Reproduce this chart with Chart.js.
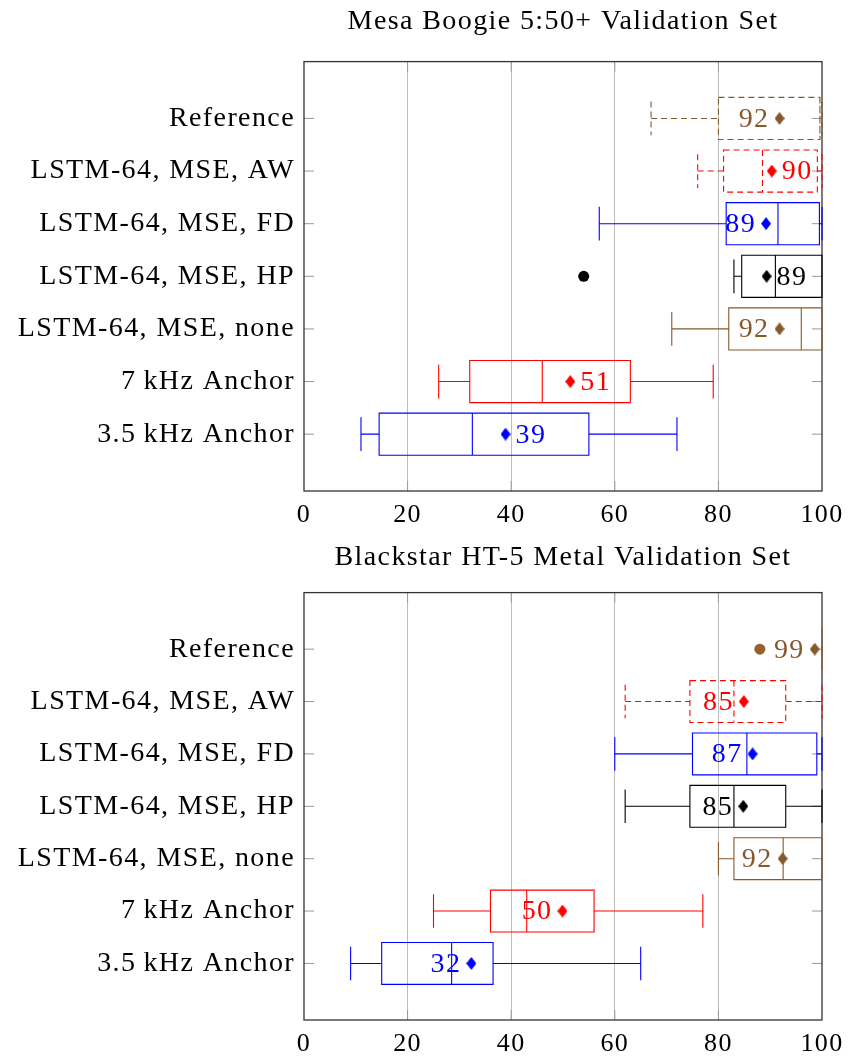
<!DOCTYPE html>
<html>
<head>
<meta charset="utf-8">
<script src="https://cdn.jsdelivr.net/npm/chart.js@4.4.1/dist/chart.umd.min.js"></script>
<style>
  body { margin: 0; background: #fff; }
  .box { position: absolute; left: 0; width: 848px; }
</style>
</head>
<body>
<div class="box" style="top:0;height:536px"><canvas id="mesa"></canvas></div>
<div class="box" style="top:536px;height:521px"><canvas id="blackstar"></canvas></div>
<script>
// categories top to bottom
var categories = ['Reference', 'LSTM-64, MSE, AW', 'LSTM-64, MSE, FD', 'LSTM-64, MSE, HP',
  'LSTM-64, MSE, none', '7\u2009kHz Anchor', '3.5\u2009kHz Anchor'];
var xTicks = [0, 20, 40, 60, 80, 100];

// Mesa Boogie 5:50+
var mesaLow      = [67, 76, 57, 83, 71, 26, 11];
var mesaQ1       = [80, 81, 81.5, 84.5, 82, 32, 14.5];
var mesaMedian   = [99.6, 88.5, 91.5, 91, 96, 46, 32.5];
var mesaQ3       = [99.6, 99.1, 99.5, 100, 100, 63, 55];
var mesaHigh     = [100, 100, 100, 100, 100, 79, 72];
var mesaMean     = [91.8, 90.3, 89.2, 89.3, 91.8, 51.4, 38.9];
var mesaOutliers = [[], [], [], [54], [], [], []];

// Blackstar HT-5 Metal
var bsLow      = [100, 62, 60, 62, 80, 25, 9];
var bsQ1       = [100, 74.5, 75, 74.5, 83, 36, 15];
var bsMedian   = [100, 83, 85.5, 83, 92.5, 43, 28.5];
var bsQ3       = [100, 93, 99, 93, 100, 56, 36.5];
var bsHigh     = [100, 100, 100, 100, 100, 77, 65];
var bsMean     = [98.6, 84.9, 86.6, 84.8, 92.4, 49.9, 32.3];
var bsOutliers = [[88], [], [], [], [], [], []];

// styling
var BROWN = '#86592d';
var rowColors = [BROWN, '#ff0000', '#0000ff', '#000000', BROWN, '#ff0000', '#0000ff'];
var FONT = "'Liberation Serif', 'Times New Roman', serif";

function diamond(color) {
  var c = document.createElement('canvas');
  c.width = 10; c.height = 13;
  var g = c.getContext('2d');
  g.fillStyle = color;
  g.beginPath();
  g.moveTo(5, 0); g.lineTo(10, 6.5); g.lineTo(5, 13); g.lineTo(0, 6.5);
  g.closePath(); g.fill();
  return c;
}
var diamonds = rowColors.map(diamond);

function rowPos(i) { return categories.length - i; }

function makeBoxPlugin(st) {
  return {
    id: 'boxes',
    beforeDraw: function(chart) {
      // computer modern sets wider than Liberation Serif
      chart.ctx.letterSpacing = '1.4px';
    },
    beforeDatasetsDraw: function(chart) {
      var ctx = chart.ctx, a = chart.chartArea;
      var xs = chart.scales.x, ys = chart.scales.y;
      ctx.save();
      // inner ticks
      ctx.strokeStyle = '#999';
      ctx.lineWidth = 1;
      ctx.beginPath();
      categories.forEach(function(c, i) {
        var y = ys.getPixelForValue(rowPos(i));
        ctx.moveTo(a.left, y); ctx.lineTo(a.left + 10, y);
        ctx.moveTo(a.right, y); ctx.lineTo(a.right - 10, y);
      });
      xTicks.slice(1, -1).forEach(function(v) {
        var x = xs.getPixelForValue(v);
        ctx.moveTo(x, a.top); ctx.lineTo(x, a.top + 10);
        ctx.moveTo(x, a.bottom); ctx.lineTo(x, a.bottom - 10);
      });
      ctx.stroke();
      // frame
      ctx.strokeStyle = '#333';
      ctx.lineWidth = 1.3;
      ctx.strokeRect(a.left, a.top, a.right - a.left, a.bottom - a.top);

      // boxes
      ctx.lineWidth = 1.1;
      categories.forEach(function(c, i) {
        var p = rowPos(i);
        var yc = ys.getPixelForValue(p);
        var yb0 = ys.getPixelForValue(p + 0.4), yb1 = ys.getPixelForValue(p - 0.4);
        var yw0 = ys.getPixelForValue(p + 0.32), yw1 = ys.getPixelForValue(p - 0.32);
        var lo = xs.getPixelForValue(st.low[i]), q1 = xs.getPixelForValue(st.q1[i]);
        var md = xs.getPixelForValue(st.median[i]), q3 = xs.getPixelForValue(st.q3[i]);
        var hi = xs.getPixelForValue(st.high[i]);
        ctx.strokeStyle = rowColors[i];
        ctx.setLineDash(st.dashed[i] ? [6, 4] : []);
        ctx.beginPath();
        // whiskers
        ctx.moveTo(lo, yc); ctx.lineTo(q1, yc);
        ctx.moveTo(q3, yc); ctx.lineTo(hi, yc);
        ctx.moveTo(lo, yw0); ctx.lineTo(lo, yw1);
        ctx.moveTo(hi, yw0); ctx.lineTo(hi, yw1);
        // box and median
        ctx.rect(q1, yb0, q3 - q1, yb1 - yb0);
        ctx.moveTo(md, yb0); ctx.lineTo(md, yb1);
        ctx.stroke();
      });
      ctx.restore();
    },
    afterDatasetsDraw: function(chart) {
      var ctx = chart.ctx;
      var xs = chart.scales.x, ys = chart.scales.y;
      ctx.save();
      ctx.font = '28px ' + FONT;
      ctx.textBaseline = 'middle';
      categories.forEach(function(c, i) {
        var x = xs.getPixelForValue(st.mean[i]);
        var y = ys.getPixelForValue(rowPos(i));
        var right = st.labelSide[i] === 'right';
        ctx.fillStyle = rowColors[i];
        ctx.textAlign = right ? 'left' : 'right';
        ctx.fillText(String(Math.round(st.mean[i])), right ? x + 10 : x - 10, y + 1);
      });
      ctx.restore();
    }
  };
}

function makeChart(id, title, st, titleBottom, axisHeight) {
  var meanPts = st.mean.map(function(m, i) { return { x: m, y: rowPos(i) }; });
  var outPts = [], outColors = [];
  st.outliers.forEach(function(list, i) {
    list.forEach(function(v) {
      outPts.push({ x: v, y: rowPos(i) });
      outColors.push(i === 0 ? '#96602f' : rowColors[i]);
    });
  });
  return new Chart(document.getElementById(id), {
    type: 'scatter',
    data: {
      datasets: [{
        data: meanPts,
        pointStyle: diamonds,
        pointRadius: 5
      }, {
        data: outPts,
        pointStyle: 'circle',
        pointRadius: 5.5,
        backgroundColor: outColors,
        borderColor: outColors,
        borderWidth: 0
      }]
    },
    options: {
      responsive: true,
      maintainAspectRatio: false,
      animation: false,
      layout: { padding: { left: 0, right: 26, top: 0, bottom: 0 } },
      plugins: {
        legend: { display: false },
        tooltip: { enabled: false },
        title: {
          display: true,
          text: title,
          fullSize: false,
          color: '#000',
          font: { family: FONT, size: 28, weight: 'normal' },
          padding: { top: 5, bottom: titleBottom }
        }
      },
      scales: {
        x: {
          type: 'linear',
          min: 0, max: 100,
          afterBuildTicks: function(s) { s.ticks = xTicks.map(function(v) { return { value: v }; }); },
          afterFit: function(s) { s.height = axisHeight; },
          grid: {
            drawTicks: true,
            tickLength: 9,
            tickColor: 'rgba(0,0,0,0)',
            color: function(c) { return (c.tick && (c.tick.value === 0 || c.tick.value === 100)) ? 'rgba(0,0,0,0)' : '#bdbdbd'; },
            lineWidth: 1
          },
          border: { display: false },
          ticks: { color: '#000', font: { family: FONT, size: 26 }, padding: 0, maxRotation: 0 }
        },
        y: {
          type: 'linear',
          min: -0.08, max: 8.08,
          afterBuildTicks: function(s) { s.ticks = categories.map(function(c, i) { return { value: rowPos(i) }; }); },
          afterFit: function(s) { s.width = 304; },
          grid: { display: false },
          border: { display: false },
          ticks: {
            color: '#000',
            font: { family: FONT, size: 28 },
            padding: 1,
            callback: function(v) { return categories[categories.length - v]; }
          }
        }
      }
    },
    plugins: [makeBoxPlugin(st)]
  });
}

makeChart('mesa', 'Mesa Boogie 5:50+ Validation Set', {
  low: mesaLow, q1: mesaQ1, median: mesaMedian, q3: mesaQ3, high: mesaHigh,
  mean: mesaMean, outliers: mesaOutliers,
  dashed: [true, true, false, false, false, false, false],
  labelSide: ['left', 'right', 'left', 'right', 'left', 'right', 'right']
}, 23, 45);

makeChart('blackstar', 'Blackstar HT-5 Metal Validation Set', {
  low: bsLow, q1: bsQ1, median: bsMedian, q3: bsQ3, high: bsHigh,
  mean: bsMean, outliers: bsOutliers,
  dashed: [false, true, false, false, false, false, false],
  labelSide: ['left', 'left', 'left', 'left', 'left', 'left', 'left']
}, 18, 37);
</script>
</body>
</html>
